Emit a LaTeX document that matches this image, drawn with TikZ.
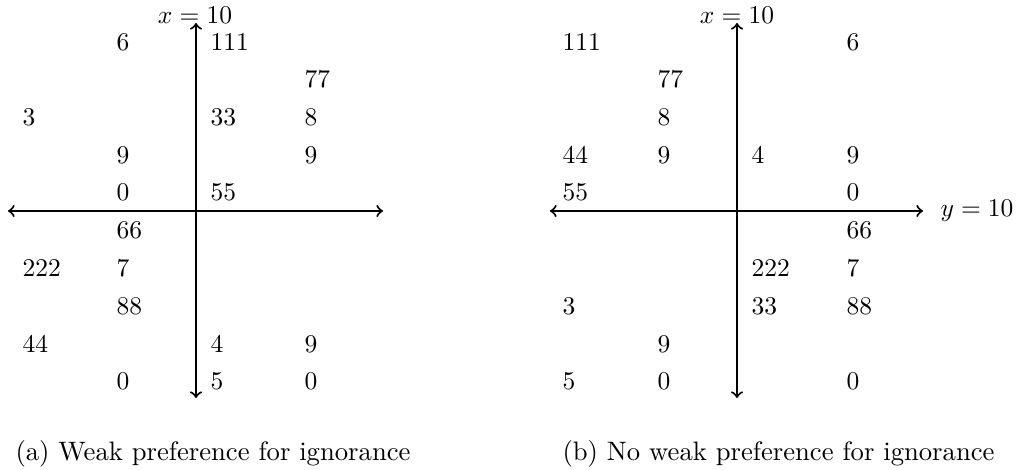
\documentclass[tikz,border=0pt]{standalone}
\begin{document}
\begin{tikzpicture}[x=0.392pt,y=-0.392pt,
  num/.style={anchor=west,inner sep=0pt,font=\normalsize},
  axis/.style={thick,<->},
  lab/.style={inner sep=0pt},
  captext/.style={inner sep=0pt,anchor=base west,font=\fontsize{10.45}{13}\selectfont}]
\useasboundingbox (0,0) rectangle (1021,470);
% ---------- left diagram ----------
\coordinate (Lt) at (196,23);
\coordinate (Lb) at (196,398);
\coordinate (Ll) at (8,211);
\coordinate (Lr) at (383,211);
\draw[axis] (Lb) -- (Lt);
\draw[axis] (Ll) -- (Lr);
\node[lab,anchor=base] (Lx) at (195,24) {$x=10$};
% columns 22,116,210,304 ; rows 42,79,117,155,192,230,268,306,344,381
\node[num] (a1) at (116,42) {6};
\node[num] (a2) at (210,42) {111};
\node[num] (a3) at (304,79) {77};
\node[num] (a4) at (22,117) {3};
\node[num] (a5) at (210,117) {33};
\node[num] (a6) at (304,117) {8};
\node[num] (a7) at (116,155) {9};
\node[num] (a8) at (304,155) {9};
\node[num] (a9) at (116,192) {0};
\node[num] (a10) at (210,192) {55};
\node[num] (a11) at (116,230) {66};
\node[num] (a12) at (22,268) {222};
\node[num] (a13) at (116,268) {7};
\node[num] (a14) at (116,306) {88};
\node[num] (a15) at (22,344) {44};
\node[num] (a16) at (210,344) {4};
\node[num] (a17) at (304,344) {9};
\node[num] (a18) at (116,381) {0};
\node[num] (a19) at (210,381) {5};
\node[num] (a20) at (304,381) {0};
\node[captext] (capa) at (15,461) {(a) Weak preference for ignorance};
% ---------- right diagram ----------
\coordinate (Rt) at (737,23);
\coordinate (Rb) at (737,398);
\coordinate (Rl) at (550,211);
\coordinate (Rr) at (923,211);
\draw[axis] (Rb) -- (Rt);
\draw[axis] (Rl) -- (Rr);
\node[lab,anchor=base] (Rx) at (737,24) {$x=10$};
\node[lab,anchor=base west] (Ry) at (940,217) {$y=10$};
% columns 562,657,751,846
\node[num] (b1) at (562,42) {111};
\node[num] (b2) at (846,42) {6};
\node[num] (b3) at (657,79) {77};
\node[num] (b4) at (657,117) {8};
\node[num] (b5) at (562,155) {44};
\node[num] (b6) at (657,155) {9};
\node[num] (b7) at (751,155) {4};
\node[num] (b8) at (846,155) {9};
\node[num] (b9) at (562,192) {55};
\node[num] (b10) at (846,192) {0};
\node[num] (b11) at (846,230) {66};
\node[num] (b12) at (751,268) {222};
\node[num] (b13) at (846,268) {7};
\node[num] (b14) at (562,306) {3};
\node[num] (b15) at (751,306) {33};
\node[num] (b16) at (846,306) {88};
\node[num] (b17) at (657,344) {9};
\node[num] (b18) at (562,381) {5};
\node[num] (b19) at (657,381) {0};
\node[num] (b20) at (846,381) {0};
\node[captext] (capb) at (562,461) {(b) No weak preference for ignorance};
\end{tikzpicture}
\end{document}
